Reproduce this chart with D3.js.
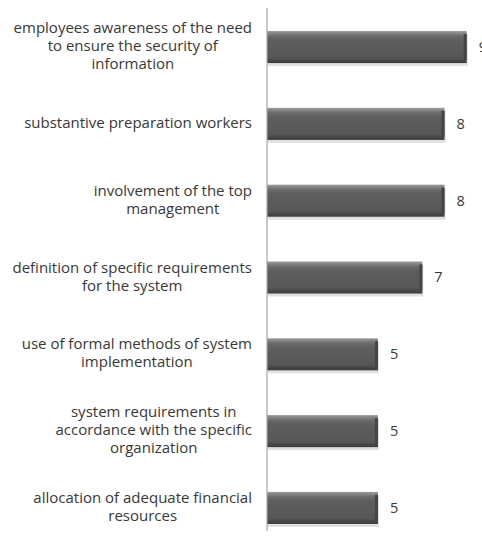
<!DOCTYPE html>
<html>
<head>
<meta charset="utf-8">
<script src="https://cdn.jsdelivr.net/npm/d3@7/dist/d3.min.js"></script>
<style>
  html, body { margin: 0; padding: 0; background: #fff; }
  svg { display: block; }
  .cat-label { font-family: 'Open Sans', sans-serif; font-size: 15px; fill: #383838; }
  .val-label { font-family: 'Open Sans', sans-serif; font-size: 14.5px; fill: #383838; }
</style>
</head>
<body>
<div id="chart"></div>
<script>
const categories = [
  ['employees awareness of the need', 'to ensure the security of', 'information'],
  ['substantive preparation workers'],
  ['involvement of the top', 'management'],
  ['definition of specific requirements', 'for the system'],
  ['use of formal methods of system', 'implementation'],
  ['system requirements in', 'accordance with the specific', 'organization'],
  ['allocation of adequate financial', 'resources']
];
const values = [9, 8, 8, 7, 5, 5, 5];

const width = 482;
const height = 541;
const axisX = 267;
const labelRight = 252;

const svg = d3.select('#chart').append('svg')
  .attr('width', width)
  .attr('height', height);

const defs = svg.append('defs');
const grad = defs.append('linearGradient')
  .attr('id', 'bar-grad')
  .attr('x1', 0).attr('x2', 0).attr('y1', 0).attr('y2', 1);
grad.append('stop').attr('offset', '0%').attr('stop-color', '#9a9a9a');
grad.append('stop').attr('offset', '16%').attr('stop-color', '#6a6a6a');
grad.append('stop').attr('offset', '30%').attr('stop-color', '#5e5e5e');
grad.append('stop').attr('offset', '82%').attr('stop-color', '#575757');
grad.append('stop').attr('offset', '100%').attr('stop-color', '#3a3a3a');

const idx = d3.range(values.length);

const x = d3.scaleLinear()
  .domain([0, 9])
  .range([axisX, 466.7]);

const y = d3.scaleBand()
  .domain(idx)
  .range([8, 547])
  .paddingInner(0.583)
  .paddingOuter(0.3);

// shadows
svg.selectAll('.shadow')
  .data(idx)
  .join('rect')
  .attr('class', 'shadow')
  .attr('x', x(0) + 1)
  .attr('y', i => y(i) + 3)
  .attr('width', i => x(values[i]) - x(0))
  .attr('height', y.bandwidth())
  .attr('fill', '#000')
  .attr('opacity', 0.12);

svg.selectAll('.bar')
  .data(idx)
  .join('rect')
  .attr('class', 'bar')
  .attr('x', x(0))
  .attr('y', i => y(i))
  .attr('width', i => x(values[i]) - x(0))
  .attr('height', y.bandwidth())
  .attr('fill', 'url(#bar-grad)');

// right bevel edge
svg.selectAll('.bevel')
  .data(idx)
  .join('rect')
  .attr('class', 'bevel')
  .attr('x', i => x(values[i]) - 3)
  .attr('y', i => y(i) + 3)
  .attr('width', 3)
  .attr('height', y.bandwidth() - 6)
  .attr('fill', '#454545');

// axis line
svg.append('line')
  .attr('x1', axisX).attr('x2', axisX)
  .attr('y1', 8).attr('y2', 531)
  .attr('stroke', '#a6a6a6')
  .attr('stroke-width', 1.2);

svg.selectAll('.val-label')
  .data(idx)
  .join('text')
  .attr('class', 'val-label')
  .attr('x', i => x(values[i]) + 12)
  .attr('y', i => y(i) + y.bandwidth() / 2 + 1)
  .attr('dominant-baseline', 'middle')
  .text(i => values[i]);

const lineH = 18;
svg.selectAll('.cat-label')
  .data(idx)
  .join('text')
  .attr('class', 'cat-label')
  .each(function(i) {
    const el = d3.select(this);
    const lines = categories[i];
    const cy = y(i) + y.bandwidth() / 2;
    const top = cy - (lines.length - 1) * lineH / 2;
    const spans = lines.map((t, k) => el.append('tspan')
      .attr('y', top + k * lineH)
      .attr('dominant-baseline', 'middle')
      .text(t));
    const maxW = d3.max(spans, s => s.node().getComputedTextLength());
    const cx = labelRight - maxW / 2;
    spans.forEach(s => s.attr('x', cx));
    el.attr('text-anchor', 'middle');
  });
</script>
</body>
</html>
